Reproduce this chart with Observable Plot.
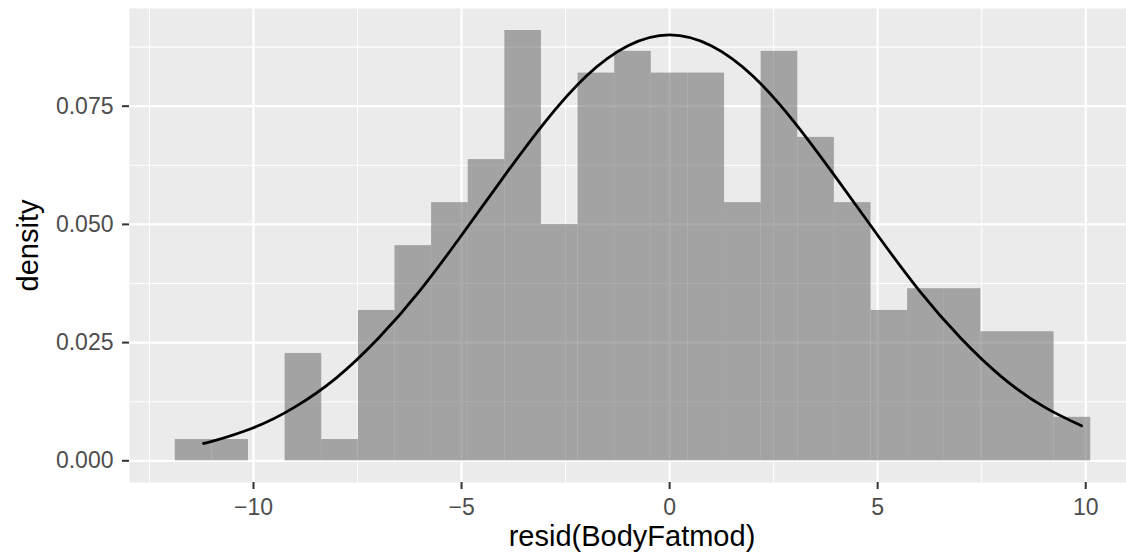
<!DOCTYPE html>
<html>
<head>
<meta charset="utf-8">
<script src="https://cdn.jsdelivr.net/npm/d3@7"></script>
<script src="https://cdn.jsdelivr.net/npm/@observablehq/plot@0.6"></script>
<style>
  html, body { margin: 0; padding: 0; background: #ffffff; overflow: hidden; }
  #chart svg { display: block; }
</style>
</head>
<body>
<div id="chart"></div>
<script>
// Histogram bin edges (resid(BodyFatmod)) and density per bin
const binEdges = [-11.88, -11.00, -10.12, -9.24, -8.36, -7.48, -6.60, -5.72, -4.84, -3.96,
                  -3.08, -2.20, -1.32, -0.44, 0.44, 1.32, 2.20, 3.08, 3.96, 4.84,
                  5.72, 6.60, 7.48, 8.36, 9.24, 10.12];
const binDensity = [0.0045, 0.0045, 0.0000, 0.0227, 0.0045, 0.0318, 0.0455, 0.0546, 0.0637, 0.0910,
                    0.0500, 0.0820, 0.0866, 0.0820, 0.0820, 0.0546, 0.0866, 0.0684, 0.0546, 0.0318,
                    0.0364, 0.0364, 0.0273, 0.0273, 0.0092];

// Normal curve overlay
const curveX = [-11.2, -11, -10, -9, -8, -7, -6, -5, -4, -3, -2, -1, 0, 1, 2, 3, 4, 5, 6, 7, 8, 9, 9.9];
const curveY = [0.0037, 0.0041, 0.0070, 0.0114, 0.0176, 0.0259, 0.0360, 0.0477, 0.0599, 0.0716, 0.0814,
                0.0878, 0.0901, 0.0878, 0.0814, 0.0716, 0.0599, 0.0477, 0.0360, 0.0259, 0.0176, 0.0114, 0.0074];

// Axis ticks
const xTicks = [-10, -5, 0, 5, 10];
const xMinor = [-12.5, -7.5, -2.5, 2.5, 7.5];
const yTicks = [0, 0.025, 0.05, 0.075];
const yMinor = [0.0125, 0.0375, 0.0625, 0.0875];

const xLabel = "resid(BodyFatmod)";
const yLabel = "density";

const bins = binDensity.map((d, i) => ({x1: binEdges[i], x2: binEdges[i + 1], density: d}));
const curve = curveX.map((x, i) => ({x, y: curveY[i]}));

const font = "'Liberation Sans', Arial, Helvetica, sans-serif";

const chart = Plot.plot({
  width: 1126,
  height: 559,
  marginLeft: 129,
  marginRight: 0,
  marginTop: 8,
  marginBottom: 77,
  style: {fontFamily: font, background: "#ffffff"},
  x: {domain: [-12.98, 10.98]},
  y: {domain: [-0.00459, 0.09566]},
  marks: [
    Plot.frame({fill: "#EBEBEB", stroke: null}),
    Plot.ruleY(yMinor, {stroke: "#ffffff", strokeWidth: 1.1}),
    Plot.ruleX(xMinor, {stroke: "#ffffff", strokeWidth: 1.1}),
    Plot.ruleY(yTicks, {stroke: "#ffffff", strokeWidth: 2.2}),
    Plot.ruleX(xTicks, {stroke: "#ffffff", strokeWidth: 2.2}),
    Plot.rectY(bins, {x1: "x1", x2: "x2", y1: 0, y2: "density", fill: "#737373", fillOpacity: 0.6, inset: 0}),
    Plot.line(curve, {x: "x", y: "y", stroke: "#000000", strokeWidth: 2.8, curve: "natural"}),
    Plot.axisX({ticks: xTicks, tickFormat: d3.format("d"), tickSize: 7, tickPadding: 9,
                stroke: "#333333", strokeWidth: 2, fill: "#4D4D4D", fontSize: 23, label: null}),
    Plot.axisY({ticks: yTicks, tickFormat: d3.format(".3f"), tickSize: 7, tickPadding: 9,
                stroke: "#333333", strokeWidth: 2, fill: "#4D4D4D", fontSize: 23, label: null}),
    Plot.text([xLabel], {frameAnchor: "bottom", lineAnchor: "middle", textAnchor: "middle",
                         dx: 4, dy: 54, fontSize: 29, fill: "#000000", text: d => d}),
    Plot.text([yLabel], {frameAnchor: "left", lineAnchor: "middle", textAnchor: "middle", rotate: -90,
                         dx: -101, fontSize: 29, fill: "#000000", text: d => d})
  ]
});

document.getElementById("chart").appendChild(chart);
</script>
</body>
</html>
